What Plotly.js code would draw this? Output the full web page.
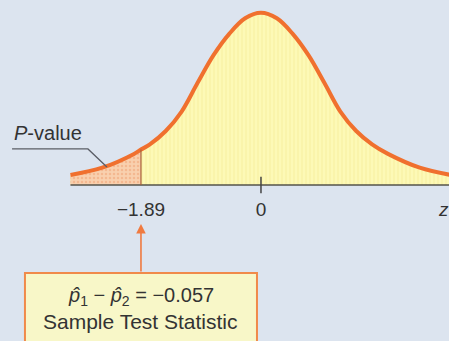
<!DOCTYPE html>
<html>
<head>
<meta charset="utf-8">
<script src="https://cdn.plot.ly/plotly-3.0.1.min.js"></script>
<style>html,body{margin:0;padding:0;background:#dce4ef;}#chart{width:449px;height:341px;}</style>
</head>
<body>
<div id="chart"></div>
<script>
// Curve points (z value, curve height)
const zValues = [-3, -2.5, -2, -1.89, -1.75, -1.5, -1.25, -1, -0.75, -0.5, -0.25, 0, 0.25, 0.5, 0.75, 1, 1.25, 1.5, 1.75, 2, 2.5, 3];
const density = [0.023, 0.040, 0.072, 0.082, 0.094, 0.125, 0.170, 0.236, 0.300, 0.350, 0.386, 0.399, 0.386, 0.350, 0.300, 0.236, 0.170, 0.125, 0.094, 0.072, 0.040, 0.023];
const testStat = -1.89;
const tickValues = [-1.89, 0];
const tickLabels = ["\u22121.89", "0"];
const axisLabel = "<i>z</i>";
const axisLabelPos = 2.87;
const statLine1 = "<i>p\u0302</i><sub>1</sub> \u2212 <i>p\u0302</i><sub>2</sub> = \u22120.057";
const statLine2 = "Sample Test Statistic";

const tailZ = zValues.filter(z => z <= testStat);
const tailD = density.filter((d, i) => zValues[i] <= testStat);
const statHeight = density[zValues.indexOf(testStat)];

const fontFam = '"Liberation Sans", Arial, sans-serif';
const orange = '#f0702e';

const traces = [
  {x: zValues, y: density, type: 'scatter', mode: 'lines', line: {width: 0, shape: 'spline'},
   fill: 'tozeroy', fillcolor: '#fdf9b6',
   fillpattern: {shape: '|', fgcolor: '#f7f0a0', bgcolor: '#fdf9b6', size: 4, solidity: 0.25},
   hoverinfo: 'skip', showlegend: false},
  {x: tailZ, y: tailD, type: 'scatter', mode: 'lines', line: {width: 0, shape: 'spline'},
   fill: 'tozeroy', fillcolor: '#f9cdaa',
   fillpattern: {shape: '.', fgcolor: '#f4b890', bgcolor: '#f9d0ae', size: 4, solidity: 0.3},
   hoverinfo: 'skip', showlegend: false},
  {x: zValues, y: density, type: 'scatter', mode: 'lines', line: {width: 4, color: orange, shape: 'spline'},
   hoverinfo: 'skip', showlegend: false}
];

const layout = {
  width: 449, height: 341,
  margin: {l: 0, r: 0, t: 0, b: 0},
  paper_bgcolor: '#dce4ef', plot_bgcolor: '#dce4ef',
  font: {family: fontFam, color: '#333'},
  xaxis: {range: [-4.110, 2.961], anchor: 'free', position: 0.4575, showgrid: false, zeroline: false,
          showline: false, ticks: '', tickvals: tickValues, ticktext: tickLabels, ticklabelstandoff: 11,
          tickfont: {size: 19, color: '#333', family: fontFam}, fixedrange: true},
  yaxis: {range: [-0.3613, 0.4284], visible: false, showgrid: false, zeroline: false, fixedrange: true},
  shapes: [
    {type: 'line', xref: 'x', yref: 'y', x0: zValues[0], x1: 2.961, y0: 0, y1: 0, line: {color: '#55534a', width: 1.5}, layer: 'above'},
    {type: 'line', xref: 'x', yref: 'y', x0: testStat, x1: testStat, y0: 0, y1: statHeight, line: {color: '#a8603a', width: 1.2}, layer: 'above'},
    {type: 'line', xref: 'x', yref: 'y', x0: 0, x1: 0, y0: -0.019, y1: 0.019, line: {color: '#444', width: 1.5}},
    {type: 'path', xref: 'x', yref: 'y', path: 'M -3.92 0.0834 L -2.725 0.0834 L -2.426 0.0417', line: {color: '#5a5d66', width: 1.3}},
    {type: 'rect', xref: 'x', yref: 'y', x0: -3.717, x1: -0.063, y0: -0.2038, y1: -0.45, fillcolor: '#f8f7c8', line: {color: '#f08a4a', width: 2}}
  ],
  annotations: [
    {x: -3.35, y: 0.120, xref: 'x', yref: 'y', text: '<i>P</i>-value', showarrow: false, font: {size: 20, color: '#333'}},
    {x: axisLabelPos, y: -0.0579, xref: 'x', yref: 'y', text: axisLabel, showarrow: false, font: {size: 19, color: '#333'}},
    {x: testStat, y: -0.2590, xref: 'x', yref: 'y', text: statLine1, showarrow: false, font: {size: 20, color: '#333'}, yanchor: 'middle'},
    {x: testStat, y: -0.3150, xref: 'x', yref: 'y', text: statLine2, showarrow: false, font: {size: 21, color: '#333'}, yanchor: 'middle'},
    {x: testStat, y: -0.0903, xref: 'x', yref: 'y', text: '', showarrow: true, ax: 0, ay: 49,
     arrowhead: 2, arrowsize: 1.2, arrowwidth: 1.6, arrowcolor: '#f07a40', standoff: 0}
  ]
};

Plotly.newPlot('chart', traces, layout, {displayModeBar: false, staticPlot: true});
</script>
</body>
</html>
